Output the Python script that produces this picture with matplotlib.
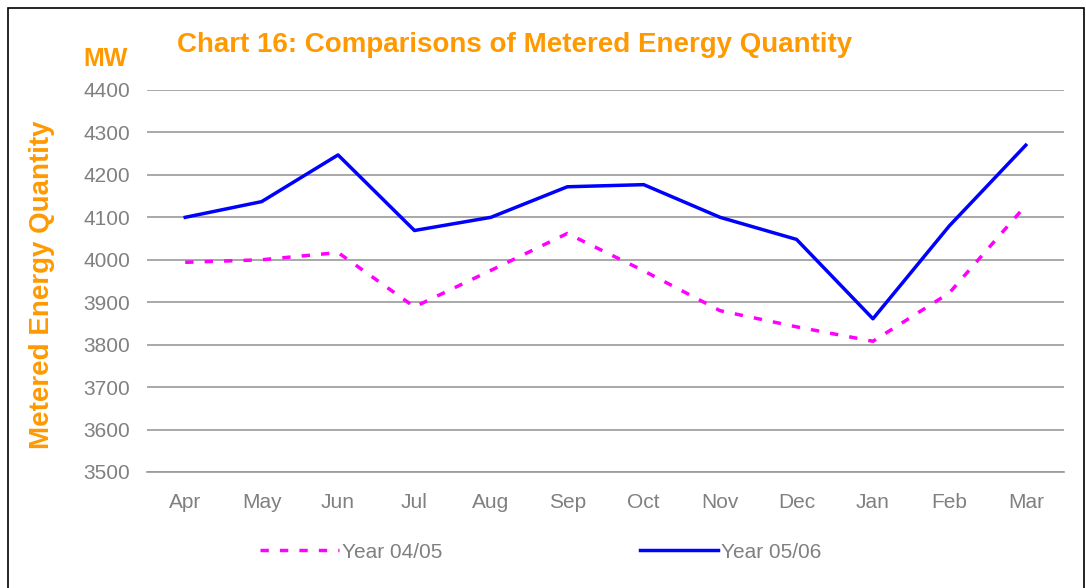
import matplotlib.pyplot as plt
from matplotlib.patches import Rectangle

months = ['Apr', 'May', 'Jun', 'Jul', 'Aug', 'Sep', 'Oct', 'Nov', 'Dec', 'Jan', 'Feb', 'Mar']
year_0405 = [3994, 4000, 4017, 3889, 3975, 4062, 3974, 3880, 3842, 3808, 3922, 4128]
year_0506 = [4100, 4137, 4247, 4069, 4100, 4172, 4177, 4100, 4048, 3861, 4080, 4270]
yticks = [3500, 3600, 3700, 3800, 3900, 4000, 4100, 4200, 4300, 4400]

orange = '#FF9900'
grey = '#808080'
plt.rcParams['font.family'] = ['Liberation Sans', 'DejaVu Sans']

fig = plt.figure(figsize=(10.86, 5.88), dpi=100)
ax = fig.add_axes([147/1086, 1 - 472/588, (1064-147)/1086, (472-90)/588])

x = list(range(len(months)))
l1, = ax.plot(x, year_0405, color='#FF00FF', lw=2.5, ls=(0, (2.4, 3.2)))
l2, = ax.plot(x, year_0506, color='#0000FF', lw=2.5)

ax.set_xlim(-0.5, len(months) - 0.5)
ax.set_ylim(3500, 4400)
ax.set_yticks(yticks)
ax.set_xticks(x)
ax.set_xticklabels(months)
ax.tick_params(length=0, labelsize=15, labelcolor=grey)
ax.tick_params(axis='x', pad=15)
ax.tick_params(axis='y', pad=12)
ax.grid(axis='y', color='#9a9a9a', lw=1.2)
ax.set_axisbelow(True)
for s in ['top', 'right', 'left']:
    ax.spines[s].set_visible(False)
ax.spines['bottom'].set_color('#9a9a9a')
ax.spines['bottom'].set_linewidth(1.2)

fig.text(515/1086, 1 - 45/588, 'Chart 16: Comparisons of Metered Energy Quantity',
         color=orange, fontsize=20, fontweight='bold', ha='center', va='center')
fig.text(106/1086, 1 - 59/588, 'MW', color=orange, fontsize=18, fontweight='bold',
         ha='center', va='center')
fig.text(42/1086, 1 - 285/588, 'Metered Energy Quantity', color=orange, fontsize=20,
         fontweight='bold', rotation=90, ha='center', va='center')

leg = fig.legend([l1, l2], ['Year 04/05', 'Year 05/06'], loc='center',
                 bbox_to_anchor=(541/1086, 1 - 552/588), ncol=2, frameon=False,
                 fontsize=15, handlelength=3.75, handletextpad=0.15, columnspacing=9.5)
for t in leg.get_texts():
    t.set_color(grey)

fig.patches.append(Rectangle((8/1086, -0.05), (1084-8)/1086, 1 - 8/588 + 0.05,
                             transform=fig.transFigure, fill=False, ec='black', lw=1.2))

fig.savefig('out.png', dpi=100)
